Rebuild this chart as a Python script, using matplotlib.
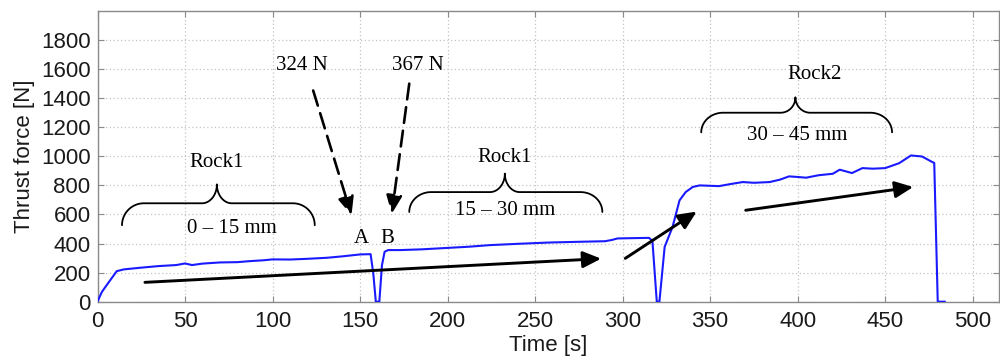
import numpy as np
import matplotlib
matplotlib.use("Agg")
import matplotlib.pyplot as plt

# ---------------- data ----------------
time_s = [0, 2.4, 5, 11, 15, 24, 35, 45, 50, 54, 60, 70, 80, 87, 95, 100, 110, 120,
          131, 140, 150, 156, 157.5, 159, 161, 162.5, 164, 166, 173, 185, 200, 212,
          224, 240, 258, 275, 290, 294, 297, 305, 315, 317, 319.5, 321, 324, 328.5,
          332.5, 336, 340, 344, 355, 362, 368.6, 375, 384, 390, 395, 400, 404.8, 412,
          420, 424, 428, 431, 437, 443, 450, 458, 464.7, 471, 477, 478, 480, 484]
thrust_N = [0, 65, 110, 210, 222, 233, 245, 252, 263, 252, 262, 270, 272, 279, 285, 291, 290, 295,
            302, 312, 325, 327, 200, 0, 0, 250, 343, 355, 355, 360, 370, 378,
            389, 398, 407, 412, 416, 425, 435, 437, 439, 420, 0, 0, 377, 514,
            697, 754, 789, 800, 795, 810, 823, 818, 823, 840, 862, 858, 853, 870,
            880, 908, 895, 885, 919, 915, 919, 953, 1006, 999, 960, 955, 0, 0]

x_ticks = [0, 50, 100, 150, 200, 250, 300, 350, 400, 450, 500]
y_ticks = [0, 200, 400, 600, 800, 1000, 1200, 1400, 1600, 1800]

# text labels: (text, t, N)
labels_text = ["Rock1", "0 \u2013 15 mm", "324 N", "367 N", "A", "B",
               "Rock1", "15 \u2013 30 mm", "Rock2", "30 \u2013 45 mm"]
labels_t = [68, 76.6, 116.5, 183.2, 150.8, 165.4, 232.6, 232.6, 409.8, 399.8]
labels_N = [960, 503, 1623, 1623, 437, 437, 995, 628, 1566, 1143]

# braces: left t, right t, middle t, end N, line N, cusp N
brace_t0 = [14, 178.1, 344.9]
brace_t1 = [124.1, 288.4, 453.9]
brace_tm = [68.2, 232.7, 398.7]
brace_end = [526, 617, 1165]
brace_line = [677, 754, 1300]
brace_cusp = [807, 881, 1406]

# dashed arrows (from -> to)
dash_from_t = [123.2, 178.1]
dash_from_N = [1453, 1500]
dash_to_t = [145.1, 168.1]
dash_to_N = [595, 605]

# solid arrows
solid_from_t = [27.1, 301.5, 370.3]
solid_from_N = [133, 298, 629]
solid_to_t = [287.7, 342.3, 466.0]
solid_to_N = [296, 620, 789]

# ---------------- figure ----------------
fig = plt.figure(figsize=(10, 3.6), dpi=100)
ax = fig.add_axes([0.0975, 0.162, 0.9015, 0.8075])

ax.plot(time_s, thrust_N, color="#1a1aff", lw=1.5, zorder=3)

ax.set_xlim(0, 515)
ax.set_ylim(0, 2000)
ax.set_xticks(x_ticks)
ax.set_yticks(y_ticks)
ax.grid(True, linestyle=(0, (1, 2)), color="#c4c4c4", lw=0.9)
for s in ax.spines.values():
    s.set_color("#8a8a8a")
    s.set_linewidth(1.0)
ax.tick_params(direction="in", length=4, color="#8a8a8a", top=True, right=True,
               labelsize=16, labelcolor="#1a1a1a", pad=5)
ax.tick_params(axis="x", pad=7)
for lab in ax.get_xticklabels() + ax.get_yticklabels():
    lab.set_family("Liberation Sans")

ax.set_xlabel("Time [s]", fontsize=16, family="Liberation Sans", color="#1a1a1a", labelpad=2)
ax.set_ylabel("Thrust force [N]", fontsize=16, family="Liberation Sans", color="#1a1a1a", labelpad=4)

# annotations text
for txt, t, n in zip(labels_text, labels_t, labels_N):
    ax.text(t, n, txt, fontsize=15, family="Liberation Serif", ha="center", va="center",
            color="black", zorder=5)

# braces
rx_end = 12.5
rx_cusp = 8.5
th = np.linspace(0, np.pi / 2, 30)
for t0, t1, tm, ye, yl, yc in zip(brace_t0, brace_t1, brace_tm, brace_end, brace_line, brace_cusp):
    xa = t0 + rx_end - rx_end * np.cos(th)
    ya = ye + (yl - ye) * np.sin(th)
    xb = tm - rx_cusp + rx_cusp * np.sin(th)
    yb = yc - (yc - yl) * np.cos(th)
    xc = tm + rx_cusp - rx_cusp * np.sin(th[::-1])
    yc_ = yc - (yc - yl) * np.cos(th[::-1])
    xd = t1 - rx_end + rx_end * np.cos(th[::-1])
    yd = ye + (yl - ye) * np.sin(th[::-1])
    bx = np.concatenate([xa, xb, xc, xd])
    by = np.concatenate([ya, yb, yc_, yd])
    ax.plot(bx, by, color="black", lw=1.3, solid_capstyle="round", zorder=5)

# dashed arrows
for ft, fn, tt, tn in zip(dash_from_t, dash_from_N, dash_to_t, dash_to_N):
    ax.annotate("", xy=(tt, tn), xytext=(ft, fn),
                arrowprops=dict(arrowstyle="-|>,head_length=0.55,head_width=0.24",
                                mutation_scale=20, lw=1.9, color="black",
                                linestyle=(0, (6, 3)), shrinkA=0, shrinkB=0),
                zorder=6)

# solid arrows
for ft, fn, tt, tn in zip(solid_from_t, solid_from_N, solid_to_t, solid_to_N):
    ax.annotate("", xy=(tt, tn), xytext=(ft, fn),
                arrowprops=dict(arrowstyle="-|>,head_length=0.55,head_width=0.25",
                                mutation_scale=20, lw=2.1, color="black",
                                shrinkA=0, shrinkB=0),
                zorder=6)

fig.savefig("out.png", dpi=100)
